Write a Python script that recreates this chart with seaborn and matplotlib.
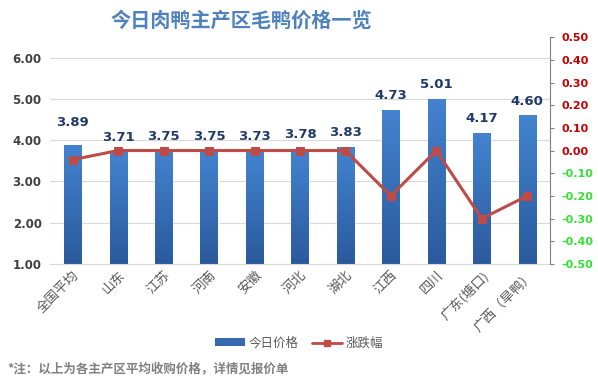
import numpy as np
import pandas as pd
import matplotlib
matplotlib.use("Agg")
import matplotlib.pyplot as plt
import seaborn as sns
from matplotlib.lines import Line2D
from matplotlib.patches import Patch
from matplotlib.colors import LinearSegmentedColormap

categories = ["全国平均", "山东", "江苏", "河南", "安徽", "河北", "湖北", "江西", "四川", "广东(塘口)", "广西（旱鸭）"]
prices = [3.89, 3.71, 3.75, 3.75, 3.73, 3.78, 3.83, 4.73, 5.01, 4.17, 4.60]
changes = [-0.04, 0.00, 0.00, 0.00, 0.00, 0.00, 0.00, -0.20, 0.00, -0.30, -0.20]
left_ticks = [1.0, 2.0, 3.0, 4.0, 5.0, 6.0]
right_ticks = [-0.5, -0.4, -0.3, -0.2, -0.1, 0.0, 0.1, 0.2, 0.3, 0.4, 0.5]

sns.set_style("white")
plt.rcParams['font.family'] = ['Noto Sans CJK SC', 'DejaVu Sans']

df = pd.DataFrame({"region": categories, "price": prices, "change": changes})

fig = plt.figure(figsize=(5.98, 3.87), dpi=100)
ax = fig.add_axes([0.0836, 0.318, 0.836, 0.586])

sns.barplot(data=df, x="region", y="price", color="#3569B0", width=0.38,
            saturation=1, ax=ax, zorder=2)

# gradient on bars
grad = np.linspace(0, 1, 256).reshape(-1, 1)
cmap = LinearSegmentedColormap.from_list("g", ["#2A5A9C", "#4483D0"])
for p in ax.patches:
    x0, y0 = p.get_x(), p.get_y()
    w, h = p.get_width(), p.get_height()
    im = ax.imshow(grad, extent=[x0, x0 + w, 1, y0 + h], origin="lower",
                   cmap=cmap, aspect="auto", zorder=2.5)
    im.set_clip_path(p)
ax.set_xlim(-0.5, len(categories) - 0.5)
ax.set_ylim(1, 6.5)

ax.set_yticks(left_ticks)
ax.set_yticklabels([f"{v:.2f}" for v in left_ticks], fontsize=8.5,
                   color="#404040", fontweight="bold", family=['DejaVu Sans'])
ax.grid(axis="y", color="#D9D9D9", linewidth=0.8, zorder=0)
ax.tick_params(axis="y", length=0, pad=6)
ax.tick_params(axis="x", length=0)
for s in ["top", "right", "left"]:
    ax.spines[s].set_visible(False)
ax.spines["bottom"].set_color("#D9D9D9")
ax.set_xlabel("")
ax.set_ylabel("")
ax.set_xticks(range(len(categories)))
ax.set_xticklabels(categories, rotation=45, ha="right", rotation_mode="anchor",
                   fontsize=9.5, color="#595959")

for i, v in enumerate(prices):
    off = 0.55 if i == 0 else 0.35
    ax.text(i, v + off, f"{v:.2f}", ha="center", va="center", fontsize=9.5,
            fontweight="bold", color="#1F3A68", family=['DejaVu Sans'], zorder=5)

ax2 = ax.twinx()
sns.lineplot(x=np.arange(len(categories)), y=changes, ax=ax2, color="#BE4B48",
             linewidth=2.2, marker="s", markersize=5.5, markeredgecolor="#BE4B48",
             zorder=6)
ax2.set_ylim(-0.5, 0.5)
ax2.set_yticks(right_ticks)
ax2.set_yticklabels([f"{v:.2f}" for v in right_ticks], fontsize=8,
                    family=['DejaVu Sans'], fontweight="bold")
for lbl, v in zip(ax2.get_yticklabels(), right_ticks):
    lbl.set_color("#C00000" if v >= 0 else "#33E033")
ax2.tick_params(axis="y", length=3, color="#808080", direction="out", pad=5)
for s in ["top", "left", "bottom"]:
    ax2.spines[s].set_visible(False)
ax2.spines["right"].set_color("#808080")
ax2.set_xlim(-0.5, len(categories) - 0.5)

fig.text(0.403, 0.948, "今日肉鸭主产区毛鸭价格一览", ha="center", va="center",
         fontsize=14.5, fontweight="bold", color="#4F81BD")

handles = [Patch(facecolor="#3569B0", edgecolor="none"),
           Line2D([0], [0], color="#BE4B48", linewidth=2, marker="s",
                  markersize=5)]
fig.legend(handles, ["今日价格", "涨跌幅"], loc="center", bbox_to_anchor=(0.5, 0.113),
           ncol=2, frameon=False, fontsize=9, handlelength=2.4,
           handleheight=0.6, columnspacing=1.0, handletextpad=0.3,
           labelcolor="#595959")

fig.text(0.012, 0.048, "*注：以上为各主产区平均收购价格，详情见报价单", ha="left",
         va="center", fontsize=9, fontweight="bold", color="#808080")

fig.savefig("out.png", dpi=100)
